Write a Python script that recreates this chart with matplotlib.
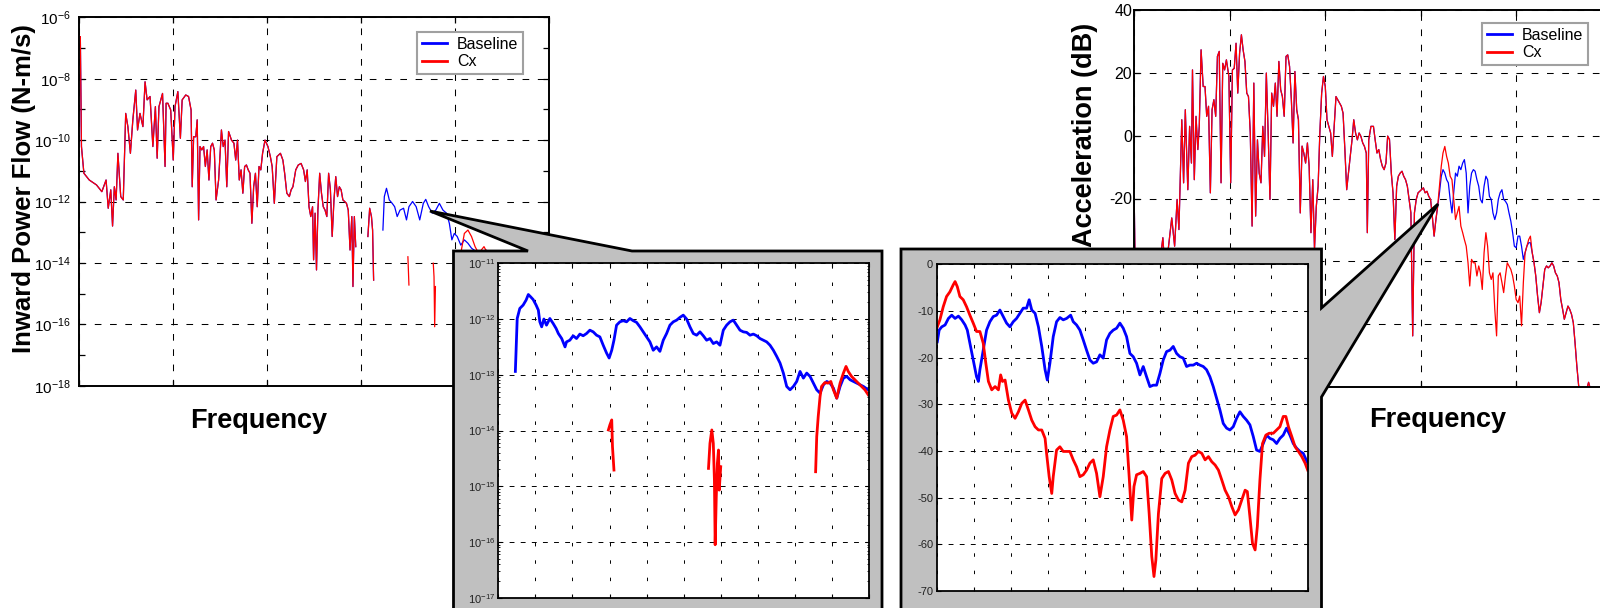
import numpy as np
import matplotlib
matplotlib.use('Agg')
import matplotlib.pyplot as plt
from matplotlib.lines import Line2D
from matplotlib.patches import Polygon
from matplotlib.ticker import FixedLocator, NullFormatter, LogFormatterSciNotation, LogLocator

plt.rcParams['font.family'] = ['Liberation Sans', 'DejaVu Sans']
plt.rcParams['axes.unicode_minus'] = False
plt.rcParams['mathtext.default'] = 'regular'
plt.rcParams['lines.scale_dashes'] = False

# ---------------- data: left main panel (inward power flow, log10 values) ----------------
pf_x_shared = [1.1, 2.3, 4.9, 10.6, 18.3, 24.0, 25.9, 28.5, 30.8, 33.5,
               35.4, 37.3, 39.2, 41.1, 44.1, 46.8, 49.4, 51.7, 54.4, 57.0,
               60.1, 62.0, 64.6, 67.7, 70.0, 72.2, 75.3, 78.3, 81.0, 82.9,
               84.8, 86.7, 88.6, 91.3, 92.4, 94.3, 97.3, 100.0, 101.9, 104.9,
               107.6, 109.5, 113.3, 116.3, 119.0, 120.2, 121.7, 124.0, 125.5, 127.0,
               128.5, 130.4, 132.3, 134.2, 136.1, 138.0, 139.9, 141.8, 143.7, 145.6,
               148.3, 151.3, 153.2, 155.1, 157.0, 158.9, 162.0, 164.6, 166.5, 168.4,
               170.3, 172.2, 174.1, 176.0, 177.9, 179.8, 181.7, 183.7, 185.6, 187.5,
               189.4, 191.3, 193.2, 195.1, 197.7, 200.8, 203.4, 205.3, 207.6, 210.3,
               214.1, 216.7, 218.6, 220.9, 223.6, 225.5, 227.4, 230.4, 233.1, 236.1,
               238.8, 240.7, 242.6, 244.5, 246.4, 248.3, 249.4, 251.0, 252.5, 254.0,
               255.9, 257.8, 259.7, 261.6, 263.5, 265.4, 267.3, 269.2, 271.1, 273.0,
               274.9, 276.8, 278.7, 280.6, 282.5, 284.4, 286.3, 288.2, 290.1, 291.3,
               292.8, 294.3]
pf_log_shared = [-6.63, -10.21, -11.08, -11.30, -11.46, -11.68, -11.52, -11.30, -12.22, -11.62,
                 -12.80, -11.52, -11.95, -10.43, -11.84, -11.95, -9.13, -9.56, -10.43, -9.34,
                 -8.37, -9.67, -9.13, -9.56, -8.10, -8.69, -8.58, -10.21, -8.91, -10.59,
                 -8.91, -8.69, -8.48, -10.86, -8.80, -8.80, -9.02, -10.65, -8.91, -8.42,
                 -9.94, -8.69, -8.53, -8.58, -9.02, -11.52, -9.89, -9.89, -9.34, -12.60,
                 -10.21, -10.32, -10.21, -10.86, -10.32, -11.30, -10.21, -10.10, -10.32, -11.95,
                 -11.30, -9.67, -10.21, -10.00, -11.52, -9.72, -10.00, -10.10, -10.65, -10.00,
                 -11.30, -10.97, -11.73, -10.86, -10.81, -10.97, -11.08, -12.71, -11.52, -11.08,
                 -12.17, -10.86, -10.97, -10.43, -10.00, -10.21, -10.54, -10.86, -12.06, -10.54,
                 -10.43, -10.65, -11.08, -11.73, -11.84, -11.62, -11.52, -10.97, -10.81, -10.76,
                 -10.97, -11.35, -10.97, -12.17, -12.49, -12.17, -13.90, -12.38, -14.23, -12.28,
                 -11.08, -11.73, -12.17, -12.28, -12.49, -11.08, -11.62, -13.14, -11.95, -11.19,
                 -11.84, -11.52, -11.62, -11.95, -12.00, -12.06, -12.28, -13.58, -12.49, -14.77,
                 -12.49, -13.47]
pf_x_mid = [307.2, 309.1, 311.0, 312.2, 313.3]
pf_log_mid = [-13.14, -12.22, -12.49, -12.93, -14.56]
pf_x_base_tail = [323.2, 324.7, 327.0, 330.0, 333.1, 335.7, 338.4, 341.4, 345.2, 348.3,
                  350.9, 354.8, 358.6, 362.4, 366.2, 368.8, 371.9, 375.7, 379.5, 383.3,
                  387.1, 390.9, 393.9, 396.6, 399.2, 402.3, 406.1, 409.9, 413.7, 417.5,
                  425.1, 432.7, 448.0, 467.0, 486.0, 499.0]
pf_log_base_tail = [-12.93, -11.84, -11.57, -11.95, -12.06, -12.17, -12.49, -12.28, -12.22, -12.60,
                    -12.17, -12.00, -12.17, -12.60, -12.06, -11.93, -12.17, -12.38, -12.28, -12.06,
                    -12.28, -12.38, -12.71, -13.25, -13.04, -13.14, -13.42, -13.25, -13.36, -13.52,
                    -13.69, -13.58, -13.90, -14.10, -14.00, -14.20]
pf_x_cx_a = [349.8, 350.2, 350.9]
pf_log_cx_a = [-13.80, -14.12, -14.72]
pf_x_cx_b = [376.8, 377.6, 378.3, 379.1]
pf_log_cx_b = [-14.01, -14.45, -16.08, -14.77]
pf_x_cx_c = [406.1, 409.9, 413.7, 417.5, 421.3, 425.1, 430.8, 432.7, 448.0, 467.0, 486.0, 499.0]
pf_log_cx_c = [-13.69, -13.04, -12.93, -13.14, -13.47, -13.69, -13.47, -13.58, -13.90, -14.10, -14.00, -14.20]

# ---------------- data: right main panel (acceleration, dB) ----------------
acc_x_shared = [0.0, 0.7, 5.6, 13.1, 20.5, 28.0, 29.9, 31.8, 35.5, 39.2,
                42.2, 44.8, 46.7, 49.7, 51.6, 53.4, 56.0, 57.9, 59.8, 60.9,
                62.8, 64.6, 66.5, 68.0, 69.9, 72.1, 74.0, 75.8, 77.7, 79.6,
                81.4, 83.3, 85.2, 87.0, 88.9, 90.8, 92.6, 94.5, 96.4, 99.0,
                100.9, 102.7, 104.6, 106.5, 108.3, 110.2, 112.1, 113.9, 115.8, 117.7,
                119.5, 121.4, 123.3, 125.1, 127.0, 128.9, 130.7, 132.6, 134.5, 136.3,
                138.2, 140.1, 142.0, 143.8, 145.7, 147.6, 149.4, 151.3, 153.2, 155.0,
                156.9, 158.8, 160.6, 162.5, 164.4, 166.2, 168.1, 170.0, 171.8, 173.7,
                175.6, 177.4, 179.3, 181.2, 183.0, 184.9, 186.8, 188.6, 190.5, 192.4,
                194.2, 196.1, 198.0, 199.9, 201.7, 203.6, 205.5, 207.3, 209.2, 211.1,
                212.9, 214.8, 216.7, 218.5, 220.4, 222.3, 224.1, 226.0, 227.9, 229.7,
                231.6, 233.5, 235.3, 237.2, 239.1, 240.9, 242.8, 243.9, 245.4, 247.7,
                250.3, 252.1, 254.0, 255.9, 257.8, 259.6, 261.5, 263.4, 265.2, 267.1,
                269.0, 270.8, 272.7, 274.6, 276.4, 278.3, 280.2, 282.0, 283.9, 285.8,
                287.6, 289.5, 291.4, 293.2, 295.1, 297.0, 298.8, 300.7, 302.6, 304.4,
                306.3, 308.2, 310.1, 311.9, 313.8, 315.7, 317.5]
acc_db_shared = [-22.5, -37.3, -52.2, -41.5, -46.8, -37.3, -32.5, -41.5, -36.2, -26.2,
                 -35.2, -20.3, -29.9, 5.1, -15.0, 8.3, -17.2, 3.0, -8.7, 21.0,
                 -14.0, 6.2, -4.4, 3.0, 27.4, 15.7, 15.7, 6.2, 9.4, -18.2,
                 8.3, 11.5, 6.2, 25.3, 26.9, -15.0, 23.1, 21.0, 24.2, 18.9,
                 -15.0, 21.0, 21.5, 29.5, 13.6, 26.3, 32.2, 27.4, 23.7, 13.6,
                 12.5, 0.9, -28.8, 16.8, -25.6, -1.3, -11.9, -15.0, 3.0, -6.6,
                 20.0, 0.9, -20.3, 13.6, 9.4, 16.8, 6.2, 23.7, 14.7, 12.5,
                 6.2, 25.3, 25.8, 22.1, 11.5, -2.3, 20.5, 8.3, 5.1, -24.6,
                 -3.3, -5.5, -8.7, -2.3, -9.7, -30.9, -14.0, -36.2, -22.5, -16.1,
                 0.9, 13.6, 18.9, 15.7, 5.1, 3.0, 0.9, -6.6, 3.0, 12.5,
                 11.5, 10.4, 9.4, 7.2, -4.4, -17.2, -11.9, -6.6, -1.3, 5.1,
                 0.9, -1.3, 0.9, -0.2, -2.3, -3.4, -5.5, -30.9, -1.3, 3.0,
                 3.0, -1.3, -5.5, -4.4, -7.6, -9.7, -10.8, -8.7, -0.1, -1.2,
                 -11.9, -18.2, -33.1, -16.1, -12.9, -11.9, -11.3, -12.9, -14.0, -16.1,
                 -20.3, -24.6, -63.8, -24.6, -20.3, -18.2, -17.7, -17.2, -16.6, -18.2,
                 -17.7, -19.3, -20.3, -25.6, -32.0, -26.7, -22.5]
acc_x_tail = [319.4, 321.3, 323.1, 325.0, 326.9, 328.7, 330.6, 332.5, 334.3, 336.2,
              338.1, 339.9, 341.8, 343.7, 345.5, 347.4, 349.3, 351.1, 353.0, 354.9,
              356.7, 358.6, 360.5, 362.3, 364.2, 366.1, 368.0, 369.8, 371.7, 373.6,
              375.4, 377.3, 379.2, 381.0, 382.9, 384.8, 386.6, 388.5, 390.4, 392.2,
              394.1, 396.0, 397.8, 399.7, 401.6, 403.4, 405.3, 407.2, 409.0, 410.9,
              412.8, 414.6, 416.5, 418.4]
acc_db_base_tail = [-18.2, -12.9, -10.8, -11.9, -14.0, -15.0, -20.3, -24.6, -18.2, -11.9,
                    -12.9, -9.7, -10.8, -8.7, -7.6, -11.9, -24.6, -16.1, -11.9, -10.8,
                    -11.3, -14.0, -16.1, -20.3, -21.4, -16.1, -12.9, -14.0, -19.3, -20.3,
                    -24.6, -26.7, -24.6, -20.3, -18.2, -17.2, -20.3, -20.9, -21.9, -24.6,
                    -27.2, -30.9, -35.2, -35.7, -32.0, -32.0, -35.2, -39.4, -37.3, -35.2,
                    -34.1, -34.1, -37.3, -40.5]
acc_db_cx_tail = [-16.1, -9.7, -5.5, -3.4, -6.6, -8.7, -12.9, -14.0, -20.3, -26.7,
                  -24.6, -22.5, -28.8, -30.9, -33.1, -35.2, -40.5, -47.9, -39.4, -40.5,
                  -40.5, -44.7, -41.5, -43.7, -49.0, -37.3, -30.9, -35.2, -43.7, -45.8,
                  -43.7, -55.3, -63.8, -44.7, -43.7, -46.8, -50.0, -44.7, -40.5, -41.5,
                  -42.6, -44.7, -47.9, -52.2, -53.2, -51.1, -60.6, -46.8, -37.3, -35.2,
                  -33.1, -32.0, -37.3, -40.5]
acc_x_end = [420.2, 422.1, 424.0, 425.8, 427.7, 429.6, 431.5, 433.3, 435.2, 437.1,
             438.9, 440.8, 442.7, 444.5, 446.4, 448.3, 450.1, 452.0, 453.9, 455.7,
             457.6, 459.5, 461.3, 463.2, 465.1, 468.8, 472.6, 475.5, 477.4]
acc_db_end = [-44.7, -51.1, -56.4, -53.2, -47.9, -42.6, -41.5, -42.1, -41.5, -40.5,
              -41.5, -43.7, -44.7, -46.8, -52.2, -55.3, -58.5, -56.4, -54.3, -55.3,
              -56.9, -59.6, -65.9, -73.4, -79.7, -81.3, -81.8, -78.6, -80.8]

# ---------------- data: left inset (zoomed power flow, log10 values) ----------------
zpf_x_base = [0.46, 0.51, 0.58, 0.67, 0.75, 0.81, 0.87, 0.94, 1.02, 1.08, 1.12, 1.17, 1.23, 1.30,
              1.39, 1.48, 1.56, 1.62, 1.71, 1.80, 1.84, 1.93, 2.02, 2.11, 2.20, 2.29, 2.38, 2.47,
              2.56, 2.65, 2.74, 2.83, 2.92, 2.99, 3.06, 3.12, 3.19, 3.28, 3.37, 3.46, 3.55, 3.64,
              3.73, 3.82, 3.91, 4.00, 4.09, 4.18, 4.27, 4.36, 4.45, 4.54, 4.63, 4.72, 4.81, 4.90,
              4.99, 5.08, 5.17, 5.26, 5.35, 5.44, 5.53, 5.62, 5.71, 5.80, 5.89, 5.98, 6.07, 6.16,
              6.25, 6.34, 6.43, 6.52, 6.61, 6.70, 6.79, 6.88, 6.97, 7.06, 7.15, 7.24, 7.33, 7.42,
              7.51, 7.60, 7.69, 7.78, 7.87, 7.96, 8.05, 8.14, 8.23, 8.32, 8.41, 8.50, 8.59, 8.68,
              8.77, 8.86, 8.95, 9.04, 9.13, 9.22, 9.31, 9.40, 9.49, 9.58, 9.67, 9.76, 9.85, 9.98]
zpf_log_base = [-12.94, -11.99, -11.81, -11.75, -11.66, -11.56, -11.60, -11.65, -11.75, -11.84,
                -12.05, -12.14, -12.00, -12.11, -11.99, -12.08, -12.17, -12.26, -12.35, -12.50,
                -12.41, -12.38, -12.30, -12.35, -12.27, -12.30, -12.26, -12.20, -12.23, -12.29,
                -12.32, -12.47, -12.61, -12.70, -12.56, -12.38, -12.11, -12.05, -12.03, -12.05,
                -11.99, -12.03, -12.06, -12.14, -12.23, -12.32, -12.41, -12.56, -12.50, -12.58,
                -12.38, -12.26, -12.11, -12.05, -12.02, -11.97, -11.93, -12.00, -12.14, -12.26,
                -12.29, -12.23, -12.30, -12.38, -12.35, -12.44, -12.41, -12.47, -12.20, -12.11,
                -12.05, -12.02, -12.11, -12.20, -12.23, -12.24, -12.29, -12.27, -12.30, -12.35,
                -12.38, -12.41, -12.47, -12.56, -12.67, -12.79, -12.97, -13.21, -13.27, -13.21,
                -13.12, -12.94, -13.06, -12.97, -13.03, -13.15, -13.27, -13.33, -13.18, -13.12,
                -13.15, -13.24, -13.42, -13.21, -13.06, -13.03, -13.09, -13.12, -13.15, -13.18,
                -13.21, -13.27]
zpf_x_cx_a = [2.97, 3.01, 3.06, 3.08, 3.12]
zpf_log_cx_a = [-13.99, -13.90, -13.81, -14.29, -14.71]
zpf_x_cx_b = [5.67, 5.71, 5.76, 5.80, 5.83, 5.85, 5.88, 5.91, 5.94, 5.96, 6.00]
zpf_log_cx_b = [-14.68, -14.23, -13.99, -14.23, -14.89, -16.05, -15.19, -14.59, -14.35, -15.07, -14.65]
zpf_x_cx_c = [8.56, 8.59, 8.63, 8.68, 8.72, 8.81, 8.90, 8.97, 9.04, 9.13,
              9.22, 9.31, 9.38, 9.44, 9.53, 9.62, 9.71, 9.80, 9.89, 9.98]
zpf_log_cx_c = [-14.74, -14.11, -13.75, -13.39, -13.21, -13.14, -13.15, -13.12, -13.27, -13.42,
                -13.15, -12.97, -12.85, -12.94, -13.03, -13.09, -13.15, -13.21, -13.27, -13.36]

# ---------------- data: right inset (zoomed acceleration, dB) ----------------
zacc_x_base = [0.00, 0.05, 0.12, 0.21, 0.30, 0.39, 0.48, 0.57, 0.66, 0.75, 0.81, 0.88, 0.97, 1.06,
               1.11, 1.15, 1.24, 1.33, 1.42, 1.51, 1.60, 1.69, 1.78, 1.87, 1.96, 2.05, 2.14, 2.23,
               2.32, 2.41, 2.48, 2.55, 2.64, 2.73, 2.82, 2.91, 2.97, 3.04, 3.13, 3.22, 3.31, 3.40,
               3.49, 3.60, 3.67, 3.76, 3.85, 3.94, 4.03, 4.12, 4.21, 4.30, 4.39, 4.48, 4.57, 4.66,
               4.75, 4.84, 4.93, 5.02, 5.11, 5.20, 5.29, 5.38, 5.47, 5.56, 5.65, 5.74, 5.83, 5.92,
               6.01, 6.10, 6.19, 6.28, 6.37, 6.46, 6.55, 6.64, 6.73, 6.82, 6.91, 7.00, 7.09, 7.18,
               7.27, 7.36, 7.45, 7.54, 7.63, 7.72, 7.81, 7.90, 7.99, 8.08, 8.17, 8.26, 8.35, 8.44,
               8.53, 8.62, 8.71, 8.80, 8.89, 8.98, 9.07, 9.16, 9.25, 9.34, 9.43, 9.52, 9.61, 9.70,
               9.79, 9.88, 10.00]
zacc_db_base = [-16.6, -14.1, -13.4, -13.0, -11.6, -10.9, -11.6, -11.1, -11.9, -13.0,
                -14.1, -16.9, -20.5, -24.1, -25.1, -22.6, -18.4, -14.1, -12.3, -11.2,
                -10.9, -9.8, -11.2, -12.6, -13.4, -12.3, -11.6, -10.5, -9.4, -9.4,
                -7.6, -9.8, -10.5, -13.4, -17.6, -22.6, -24.8, -21.2, -15.5, -12.3,
                -11.4, -11.9, -11.6, -10.9, -12.3, -13.0, -14.1, -16.2, -18.4, -20.5,
                -21.2, -20.9, -19.4, -20.1, -16.2, -14.8, -14.1, -13.7, -12.6, -13.7,
                -15.5, -19.1, -19.8, -21.2, -23.7, -21.9, -24.1, -26.2, -25.9, -25.9,
                -23.4, -20.5, -18.7, -18.4, -17.6, -19.1, -19.8, -20.1, -21.9, -21.6,
                -21.6, -21.2, -21.6, -21.9, -22.6, -24.1, -26.2, -28.7, -31.2, -34.1,
                -35.1, -35.5, -34.8, -33.0, -31.6, -32.6, -33.4, -34.4, -36.9, -39.8,
                -40.1, -38.4, -36.6, -37.3, -37.6, -38.4, -37.3, -36.6, -35.1, -36.6,
                -38.4, -39.4, -40.1, -40.5, -42.6]
zacc_x_cx = [0.00, 0.07, 0.16, 0.25, 0.34, 0.43, 0.48, 0.54, 0.61, 0.70,
             0.79, 0.88, 0.97, 1.06, 1.15, 1.24, 1.31, 1.38, 1.47, 1.56,
             1.65, 1.71, 1.76, 1.83, 1.92, 2.01, 2.10, 2.19, 2.28, 2.37,
             2.46, 2.55, 2.64, 2.73, 2.82, 2.91, 2.95, 3.02, 3.09, 3.13,
             3.22, 3.31, 3.40, 3.49, 3.58, 3.67, 3.76, 3.85, 3.94, 4.03,
             4.12, 4.21, 4.30, 4.39, 4.48, 4.57, 4.66, 4.75, 4.84, 4.93,
             5.02, 5.11, 5.18, 5.25, 5.31, 5.38, 5.47, 5.56, 5.65, 5.72,
             5.79, 5.85, 5.90, 5.97, 6.06, 6.15, 6.24, 6.33, 6.42, 6.51,
             6.60, 6.69, 6.78, 6.87, 6.96, 7.05, 7.14, 7.23, 7.32, 7.41,
             7.50, 7.59, 7.68, 7.77, 7.86, 7.95, 8.04, 8.13, 8.22, 8.31,
             8.37, 8.44, 8.51, 8.58, 8.64, 8.71, 8.78, 8.87, 8.96, 9.07,
             9.16, 9.25, 9.34, 9.41, 9.48, 9.57, 9.66, 9.75, 9.84, 9.93,
             10.00]
zacc_db_cx = [-13.4, -11.9, -9.1, -6.9, -5.9, -4.4, -3.7, -4.8, -6.9, -7.6,
              -9.1, -10.9, -12.6, -14.4, -14.4, -16.9, -21.2, -25.1, -26.9, -26.2,
              -26.9, -23.7, -25.1, -24.8, -29.1, -31.9, -33.0, -31.6, -29.8, -29.1,
              -31.2, -33.4, -34.8, -35.5, -35.5, -37.3, -40.5, -45.5, -49.1, -45.5,
              -39.8, -39.1, -40.1, -40.1, -40.1, -41.9, -43.4, -45.5, -45.1, -44.1,
              -42.6, -41.9, -44.8, -49.8, -45.5, -39.1, -35.5, -32.6, -32.3, -31.2,
              -33.4, -36.9, -45.5, -54.8, -47.6, -45.1, -44.8, -44.4, -45.5, -53.4,
              -62.6, -66.9, -63.4, -53.4, -45.9, -44.8, -44.4, -46.2, -49.1, -50.5,
              -50.9, -48.4, -42.6, -41.2, -40.9, -40.1, -40.5, -41.9, -41.2, -42.3,
              -43.0, -44.1, -46.2, -48.4, -49.8, -51.9, -53.7, -52.6, -50.5, -48.4,
              -48.7, -54.1, -59.8, -61.2, -56.2, -46.2, -38.4, -36.6, -36.2, -36.2,
              -35.5, -34.8, -32.6, -32.6, -34.8, -36.9, -39.1, -40.1, -41.2, -42.6,
              -44.1]

series_labels = ['Baseline', 'Cx']
pf_decades = [-18, -16, -14, -12, -10, -8, -6]
pf_minor_decades = [-17, -15, -13, -11, -9, -7]
zpf_decades = [-17, -16, -15, -14, -13, -12, -11]
acc_ticks = [-80, -60, -40, -20, 0, 20, 40]
zacc_ticks = [-70, -60, -50, -40, -30, -20, -10, 0]
freq_ticks = [0, 100, 200, 300, 400, 500]
zoom_ticks = list(range(0, 11))

NAN = [np.nan]
pf_base_x = np.array(pf_x_shared + [300.0] + pf_x_mid + [318.0] + pf_x_base_tail)
pf_base_y = 10.0 ** np.array(pf_log_shared + NAN + pf_log_mid + NAN + pf_log_base_tail)
pf_cx_x = np.array(pf_x_shared + [300.0] + pf_x_mid + [330.0] + pf_x_cx_a + [360.0]
                   + pf_x_cx_b + [390.0] + pf_x_cx_c)
pf_cx_y = 10.0 ** np.array(pf_log_shared + NAN + pf_log_mid + NAN + pf_log_cx_a + NAN
                           + pf_log_cx_b + NAN + pf_log_cx_c)
acc_x = np.array(acc_x_shared + acc_x_tail + acc_x_end)
acc_base = np.array(acc_db_shared + acc_db_base_tail + acc_db_end)
acc_cx = np.array(acc_db_shared + acc_db_cx_tail + acc_db_end)

BLUE, RED = '#0000ff', '#ff0000'
W, H = 1600.0, 608.0


def fr(x0, y0, x1, y1):
    return [x0 / W, 1 - y1 / H, (x1 - x0) / W, (y1 - y0) / H]


fig = plt.figure(figsize=(16, 6.08), dpi=100)
fig.patch.set_facecolor('white')

axL = fig.add_axes(fr(79.3, 17.3, 549, 385.7))
axR = fig.add_axes(fr(1134.3, 10.3, 1612, 386.7))
over = fig.add_axes([0, 0, 1, 1], zorder=1)
insL = fig.add_axes(fr(498.3, 263.3, 869, 597.7), zorder=2)
insR = fig.add_axes(fr(937.3, 264.3, 1307.7, 591), zorder=2)

GRID_MAIN = dict(color='black', linewidth=0.75, linestyle=(0, (4.8, 6.2)))


def style_main(ax, pad):
    for s in ax.spines.values():
        s.set_linewidth(1.4)
    ax.tick_params(which='both', direction='in', top=True, right=True, length=4,
                   width=0.9, labelsize=11.5, pad=pad, labelbottom=False)


# ---- left main ----
axL.plot(pf_base_x, pf_base_y, color=BLUE, lw=0.9)
axL.plot(pf_cx_x, pf_cx_y, color=RED, lw=0.9)
axL.set_yscale('log')
axL.set_xlim(freq_ticks[0], freq_ticks[-1])
axL.set_ylim(10.0 ** pf_decades[0], 10.0 ** pf_decades[-1])
axL.set_xticks(freq_ticks)
axL.yaxis.set_major_locator(FixedLocator([10.0 ** d for d in pf_decades]))
axL.yaxis.set_minor_locator(FixedLocator([10.0 ** d for d in pf_minor_decades]))
axL.yaxis.set_major_formatter(LogFormatterSciNotation())
axL.yaxis.set_minor_formatter(NullFormatter())
style_main(axL, 6)
axL.tick_params(axis='y', labelsize=11)
axL.grid(True, which='major', **GRID_MAIN)

# ---- right main ----
axR.plot(acc_x, acc_base, color=BLUE, lw=0.9)
axR.plot(acc_x, acc_cx, color=RED, lw=0.9)
axR.set_xlim(freq_ticks[0], freq_ticks[-1])
axR.set_ylim(acc_ticks[0], acc_ticks[-1])
axR.set_xticks(freq_ticks)
axR.set_yticks(acc_ticks)
style_main(axR, 1.5)
axR.grid(True, which='major', **GRID_MAIN)

handles = [Line2D([], [], color=BLUE, lw=2.0), Line2D([], [], color=RED, lw=2.0)]
for ax, anchor in ((axL, (523, 32)), (axR, (1588, 23))):
    leg = ax.legend(handles, series_labels, loc='upper right',
                    bbox_to_anchor=(anchor[0] / W, 1 - anchor[1] / H),
                    bbox_transform=fig.transFigure, fontsize=11.5, frameon=True,
                    fancybox=False, edgecolor='#a0a0a0', framealpha=1, borderpad=0.3,
                    handlelength=1.6, handletextpad=0.6, labelspacing=0.15, borderaxespad=0)
    leg.get_frame().set_linewidth(1.5)

# ---- callout frames ----
over.set_xlim(0, W)
over.set_ylim(H, 0)
over.axis('off')
frameL = [(453.5, 640), (453.5, 251), (528, 251), (430, 211), (632, 251), (882, 251), (882, 640)]
frameR = [(901, 640), (901, 249), (1321.5, 249), (1321.5, 308), (1438, 204),
          (1321.5, 397), (1321.5, 640)]
for pts in (frameL, frameR):
    over.add_patch(Polygon(pts, closed=True, facecolor='#c0c0c0', edgecolor='black',
                           linewidth=2.0, joinstyle='miter'))

# ---- insets ----
GRID_X = dict(color='black', linewidth=0.7, linestyle=(0, (2.5, 10)))
GRID_Y = dict(color='black', linewidth=0.7, linestyle=(0, (3.5, 4.5)))


def style_inset(ax, pad):
    for s in ax.spines.values():
        s.set_linewidth(1.3)
    ax.tick_params(which='major', direction='in', top=True, right=True, length=3,
                   width=0.8, labelsize=8, pad=pad, labelbottom=False, labelcolor='#222222')
    ax.tick_params(which='minor', direction='in', top=True, right=True, length=1.6, width=0.6)
    ax.xaxis.grid(True, which='major', **GRID_X)
    ax.yaxis.grid(True, which='major', **GRID_Y)


insL.plot(zpf_x_base, 10.0 ** np.array(zpf_log_base), color=BLUE, lw=2.0)
for xs, ls in ((zpf_x_cx_a, zpf_log_cx_a), (zpf_x_cx_b, zpf_log_cx_b), (zpf_x_cx_c, zpf_log_cx_c)):
    insL.plot(xs, 10.0 ** np.array(ls), color=RED, lw=2.0)
insL.set_yscale('log')
insL.set_xlim(zoom_ticks[0], zoom_ticks[-1])
insL.set_ylim(10.0 ** zpf_decades[0], 10.0 ** zpf_decades[-1])
insL.set_xticks(zoom_ticks)
insL.yaxis.set_major_locator(FixedLocator([10.0 ** d for d in zpf_decades]))
insL.yaxis.set_minor_locator(LogLocator(base=10, subs=np.arange(2, 10), numticks=30))
insL.yaxis.set_major_formatter(LogFormatterSciNotation())
insL.yaxis.set_minor_formatter(NullFormatter())
style_inset(insL, 2)

insR.plot(zacc_x_base, zacc_db_base, color=BLUE, lw=2.0)
insR.plot(zacc_x_cx, zacc_db_cx, color=RED, lw=2.0)
insR.set_xlim(zoom_ticks[0], zoom_ticks[-1])
insR.set_ylim(zacc_ticks[0], zacc_ticks[-1])
insR.set_xticks(zoom_ticks)
insR.set_yticks(zacc_ticks)
style_inset(insR, 3)

# ---- axis titles ----
fig.text(24 / W, 1 - 189 / H, 'Inward Power Flow (N-m/s)', rotation=90, ha='center',
         va='center', fontsize=18.5, fontweight='bold', zorder=0.5)
fig.text(1085.5 / W, 1 - 134.5 / H, 'Acceleration (dB)', rotation=90, ha='center',
         va='center', fontsize=19.5, fontweight='bold', zorder=0.5)
fig.text(259 / W, 1 - 428 / H, 'Frequency', ha='center', va='baseline', fontsize=19.5,
         fontweight='bold', zorder=0.5)
fig.text(1438 / W, 1 - 427 / H, 'Frequency', ha='center', va='baseline', fontsize=19.5,
         fontweight='bold', zorder=0.5)

fig.savefig('out.png', dpi=100, facecolor='white')
